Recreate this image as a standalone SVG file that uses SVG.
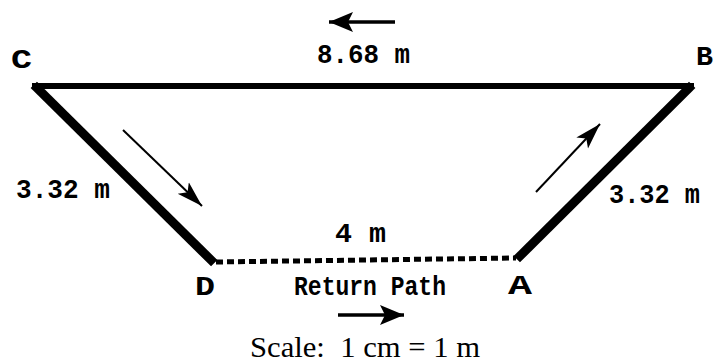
<svg xmlns="http://www.w3.org/2000/svg" width="714" height="364" viewBox="0 0 714 364">
<style>
.mono{font-family:"Liberation Mono","DejaVu Sans Mono",monospace;font-size:28px;font-weight:bold;fill:#000}
.serif{font-family:"Liberation Serif","Times New Roman",serif;fill:#000}
.side{stroke:#000;fill:none;stroke-linecap:square}
.dir{stroke:#000;fill:none}
</style>
<defs>
<marker id="head" markerUnits="userSpaceOnUse" markerWidth="26" markerHeight="22" refX="24" refY="11" orient="auto">
<path d="M0,1 L24,11 L0,21 L5,11 Z" fill="#000"/>
</marker>
<marker id="headThin" markerUnits="userSpaceOnUse" markerWidth="28" markerHeight="18" refX="26" refY="9" orient="auto">
<path d="M0,1 L26,9 L0,17 L6,9 Z" fill="#000"/>
</marker>
</defs>
<rect width="714" height="364" fill="#fff"/>
<g id="connectors">
<line class="side" x1="35" y1="86" x2="691" y2="86" stroke-width="6"/>
<line class="side" x1="37" y1="88" x2="211" y2="260" stroke-width="9"/>
<line class="side" x1="689" y1="88" x2="520" y2="256" stroke-width="9"/>
<line x1="216" y1="262" x2="516" y2="258" stroke="#000" stroke-width="5" stroke-dasharray="7,4"/>
</g>
<g id="directions">
<line class="dir" x1="395" y1="22" x2="329" y2="22" stroke-width="3.5" marker-end="url(#head)"/>
<line class="dir" x1="338" y1="315" x2="404" y2="315" stroke-width="3.5" marker-end="url(#head)"/>
<line class="dir" x1="123" y1="130" x2="202" y2="206" stroke-width="2" marker-end="url(#headThin)"/>
<line class="dir" x1="536" y1="192" x2="600" y2="124" stroke-width="2" marker-end="url(#headThin)"/>
</g>
<g id="node-C"><text class="mono" x="11" y="68" font-size="31" textLength="21" lengthAdjust="spacingAndGlyphs">C</text></g>
<g id="node-B"><text class="mono" x="696" y="65" font-size="30" textLength="17" lengthAdjust="spacingAndGlyphs">B</text></g>
<g id="node-D"><text class="mono" x="195" y="295" textLength="20" lengthAdjust="spacingAndGlyphs">D</text></g>
<g id="node-A"><text class="mono" x="508" y="294" textLength="24" lengthAdjust="spacingAndGlyphs">A</text></g>
<g id="label-CB"><text class="mono" x="317" y="63" textLength="93" lengthAdjust="spacingAndGlyphs">8.68 m</text></g>
<g id="label-CD"><text class="mono" x="16" y="198" textLength="94" lengthAdjust="spacingAndGlyphs">3.32 m</text></g>
<g id="label-AB"><text class="mono" x="609" y="203" textLength="91" lengthAdjust="spacingAndGlyphs">3.32 m</text></g>
<g id="label-DA"><text class="mono" x="335" y="242" textLength="51" lengthAdjust="spacingAndGlyphs">4 m</text></g>
<g id="label-return"><text class="mono" x="294" y="295" textLength="152" lengthAdjust="spacingAndGlyphs">Return Path</text></g>
<g id="scale"><text class="serif" x="250" y="357" font-size="29" xml:space="preserve" textLength="230" lengthAdjust="spacingAndGlyphs">Scale:  1 cm = 1 m</text></g>
</svg>
